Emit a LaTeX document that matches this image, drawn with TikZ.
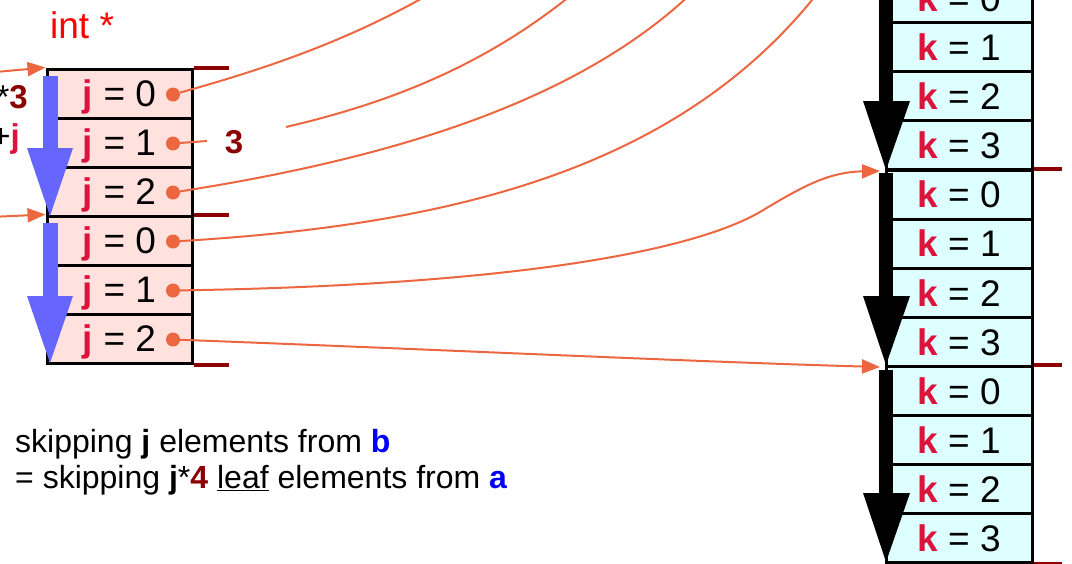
\documentclass[tikz,border=0pt]{standalone}
\usepackage{fontspec}
\setmainfont{Liberation Sans}
\usetikzlibrary{arrows.meta}
\definecolor{orng}{RGB}{236,102,64}
\definecolor{pinkcell}{RGB}{255,226,222}
\definecolor{cyancell}{RGB}{221,255,255}
\definecolor{crim}{RGB}{220,20,60}
\definecolor{dred}{RGB}{139,0,0}
\definecolor{barblue}{RGB}{102,102,255}
\definecolor{txtblue}{RGB}{0,0,255}
\newcommand{\jlab}[1]{\textcolor{crim}{\textbf{j}} = #1}
\newcommand{\klab}[1]{\textcolor{crim}{\textbf{k}} = #1}
\begin{document}
\begin{tikzpicture}[x=1pt,y=-1pt,
  cellbase/.style={draw=black,line width=3pt,inner sep=0pt,text height=26.5pt,text depth=0pt,font=\fontsize{37}{44}\selectfont},
  jcell/.style={cellbase,fill=pinkcell,minimum width=145pt,minimum height=49pt},
  kcell/.style={cellbase,fill=cyancell,minimum width=146pt,minimum height=49.1pt},
  dot/.style={circle,fill=orng,minimum size=14pt,inner sep=0pt},
  conn/.style={draw=orng,line width=2pt},
  connarrow/.style={conn,-{Triangle[length=18pt,width=14pt]}},
  stub/.style={draw=dred,line width=4pt},
  lbl/.style={inner sep=0pt,font=\fontsize{33}{38}\selectfont},
  notetext/.style={inner sep=0pt,font=\fontsize{32}{37}\selectfont},
  bluebar/.style={fill=barblue},
  blackbar/.style={fill=black},
]
\useasboundingbox (0,0) rectangle (1072,563);
\clip (0,0) rectangle (1072,563);

% left column cells (b)
\foreach \n/\y/\v in {ja0/93.5/0, ja1/142.5/1, ja2/191.5/2, jb0/240.5/0, jb1/289.5/1, jb2/338.5/2}{
  \node[jcell] (\n) at (119.5,\y) {\jlab{\v}};
  \node[dot] (d\n) at (173,{\y+1}) {};
}

% right column cells (a)
\foreach \g/\t in {a/-26.5, b/170, c/366.5}{
  \foreach \i in {0,...,3}{
    \node[kcell] (k\g\i) at (959,{\t+24.55+49.1*\i}) {\klab{\i}};
  }
}

% dark red stubs
\draw[stub] (ja0.north east) -- ++(35,0);
\draw[stub] (jb0.north east) -- ++(35,0);
\draw[stub] (jb2.south east) -- ++(35,0);
\draw[stub] (kb0.north east) -- ++(28,0);
\draw[stub] (kc0.north east) -- ++(28,0);
\draw[stub] (kc3.south east) -- ++(28,0);

% blue arrows
\fill[bluebar] (43,76) rectangle (58,148);
\fill[bluebar] (27,148) -- (73,148) -- (50,216) -- cycle;
\fill[bluebar] (43,223) rectangle (58,297);
\fill[bluebar] (27,296) -- (73,296) -- (50,363) -- cycle;

% black arrows
\fill[blackbar] (879,-30) rectangle (893,101);
\fill[blackbar] (863,101) -- (910,101) -- (886,170) -- cycle;
\fill[blackbar] (879,173) rectangle (893,296);
\fill[blackbar] (863,296) -- (910,296) -- (886,365) -- cycle;
\fill[blackbar] (879,370) rectangle (893,493);
\fill[blackbar] (863,493) -- (910,493) -- (886,562) -- cycle;

% labels
\node[anchor=base west,inner sep=0pt,text=red,font=\fontsize{37}{44}\selectfont] (title) at (50,38) {int *};
\node[lbl,anchor=base east] (mul3) at (28,108) {*\textcolor{dred}{\textbf{3}}};
\node[lbl,anchor=base east] (plusj) at (20,147) {+\textcolor{crim}{\textbf{j}}};
\node[lbl,text=dred,font=\fontsize{33}{38}\selectfont\bfseries] (three) at (234,142) {3};
\node[notetext,anchor=base west] (note1) at (15,452) {skipping \textbf{j} elements from \textcolor{txtblue}{\textbf{b}}};
\node[notetext,anchor=base west] (note2) at (15,488) {= skipping \textbf{j}*\textcolor{dred}{\textbf{4}} \underline{leaf} elements from \textcolor{txtblue}{\textbf{a}}};

% coordinates
\coordinate (inA) at (-10,72.5);
\coordinate (inB) at (-10,217);
\coordinate (e1) at (440,-12);
\coordinate (s2) at (286,127);
\coordinate (e2) at (575,-8);
\coordinate (e3) at (700,-15);
\coordinate (e4) at (820,-10);
\coordinate (m5) at (765,209);
\coordinate (tb) at (880,171);
\coordinate (tc) at (880,367);
\coordinate (e3lbl) at (207,141);

% connectors
\draw[connarrow] (inA) -- (ja0.north west);
\draw[connarrow] (inB) -- (jb0.north west);
\draw[conn] (dja1) -- (e3lbl);
\draw[conn] (dja0) .. controls (280,65) and (360,35) .. (e1);
\draw[conn] (s2) .. controls (380,105) and (480,70) .. (e2);
\draw[conn] (dja2) .. controls (380,160) and (580,105) .. (e3);
\draw[conn] (djb0) .. controls (450,225) and (680,170) .. (e4);
\draw[connarrow] (djb1) .. controls (520,285) and (700,250) .. (m5) .. controls (805,185) and (830,172) .. (tb);
\draw[connarrow] (djb2) .. controls (450,350) and (700,362) .. (tc);
\end{tikzpicture}
\end{document}
